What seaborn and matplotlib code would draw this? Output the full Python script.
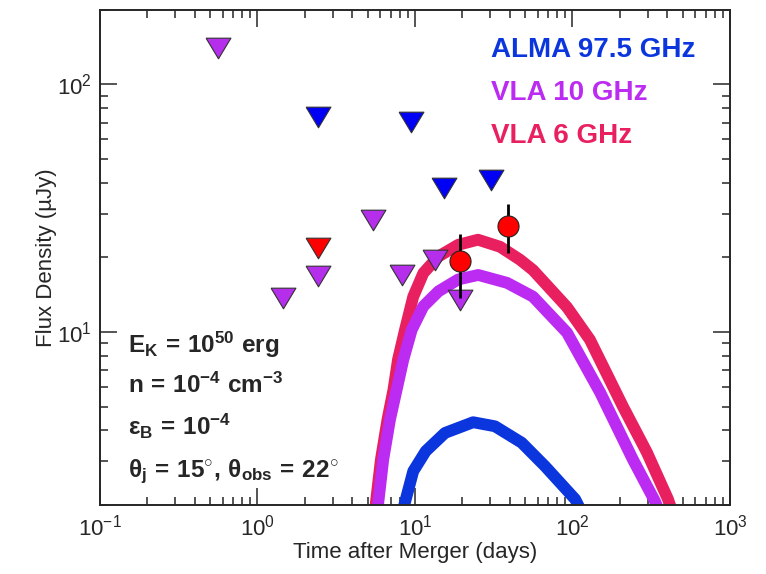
import numpy as np
import pandas as pd
import seaborn as sns
import matplotlib
matplotlib.use('Agg')
import matplotlib.pyplot as plt

# model light curves (days, uJy)
alma_t = [8.2, 8.64, 9.75, 11.7, 15.5, 23.4, 32.2, 47.6, 66.9, 104, 118]
alma_f = [1.8, 2.05, 2.74, 3.30, 3.91, 4.32, 4.16, 3.57, 2.87, 2.11, 1.8]
vla10_t = [5.75, 5.85, 6.29, 6.94, 7.65, 8.43, 9.53, 11.3, 14.1, 18.8, 25.2, 38.4, 56.1,
           92.3, 150, 242, 334, 365]
vla10_f = [1.8, 2.05, 3.06, 4.43, 5.85, 7.73, 10.2, 12.7, 14.6, 16.3, 17.0, 15.8, 13.9,
           9.94, 5.69, 3.05, 2.07, 1.8]
vla6_t = [5.55, 5.65, 6.08, 6.69, 7.30, 7.80, 8.64, 9.75, 11.3, 14.1, 18.8, 25.1, 34.7,
          46.4, 56.1, 92.3, 129, 209, 297, 404, 440]
vla6_f = [1.8, 2.05, 3.06, 4.43, 5.85, 7.73, 10.2, 13.9, 17.3, 20.2, 22.5, 23.6, 22.1,
          19.6, 17.8, 12.6, 9.31, 5.0, 3.26, 2.11, 1.8]

# upper limits
alma_lim_t = [2.42, 9.44, 15.2, 30.3]
alma_lim_f = [73.8, 70.7, 38.2, 41.1]
vla10_lim_t = [0.56, 1.45, 2.42, 5.4, 8.26, 13.4, 19.3]
vla10_lim_f = [141, 13.7, 16.9, 28.4, 17.0, 19.6, 13.5]
vla6_lim_t = [2.42]
vla6_lim_f = [21.9]

# detections
det_t = [19.3, 39.1]
det_f = [19.3, 26.9]
det_err = [5.6, 6.1]

c_alma = '#0B36DE'
c_vla10 = '#BB2BF2'
c_vla6 = '#E8205F'

sns.set_style('ticks')
plt.rcParams['font.family'] = ['Liberation Sans', 'DejaVu Sans']
plt.rcParams['mathtext.fontset'] = 'custom'
plt.rcParams['mathtext.rm'] = 'Liberation Sans:bold'
plt.rcParams['mathtext.it'] = 'Liberation Sans:bold'
plt.rcParams['mathtext.bf'] = 'Liberation Sans:bold'

fig = plt.figure(figsize=(7.66, 5.74), dpi=100)
ax = fig.add_axes([0.1305, 0.1202, 0.8225, 0.8624])

for t, f, c in [(vla6_t, vla6_f, c_vla6), (vla10_t, vla10_f, c_vla10), (alma_t, alma_f, c_alma)]:
    sns.lineplot(data=pd.DataFrame({'t': t, 'f': f}), x='t', y='f', color=c, lw=8.5,
                 sort=False, ax=ax, zorder=2, solid_capstyle='butt', solid_joinstyle='round')

tri = [(-1, 0.83), (1, 0.83), (0, -0.83), (-1, 0.83)]
for t, f, c in [(vla10_lim_t, vla10_lim_f, '#B52EEB'), (alma_lim_t, alma_lim_f, '#0000F5'),
                (vla6_lim_t, vla6_lim_f, '#FF0000')]:
    sns.scatterplot(data=pd.DataFrame({'t': t, 'f': f}), x='t', y='f', marker=tri, s=320,
                    color=c, edgecolor='#333333', linewidth=0.8, ax=ax, zorder=3)

ax.errorbar(det_t, det_f, yerr=det_err, fmt='none', ecolor='black', elinewidth=2, zorder=4)
sns.scatterplot(data=pd.DataFrame({'t': det_t, 'f': det_f}), x='t', y='f', marker='o', s=230,
                color='#FF0000', edgecolor='#222222', linewidth=0.8, ax=ax, zorder=5)

ax.set_xscale('log')
ax.set_yscale('log')
ax.set_xlim(0.1, 1000)
ax.set_ylim(2, 200)
ax.set_xlabel('Time after Merger (days)', fontsize=16, labelpad=1)
ax.set_ylabel('Flux Density (\u00b5Jy)', fontsize=16, labelpad=0)
ax.tick_params(which='both', direction='in', top=True, right=True, labelsize=16, width=1.1)
ax.tick_params(which='major', length=12)
ax.tick_params(which='minor', length=6)
ax.tick_params(axis='x', pad=7)
ax.tick_params(axis='y', pad=6)
for s in ax.spines.values():
    s.set_linewidth(1.4)

ax.text(0.621, 0.906, 'ALMA 97.5 GHz', color=c_alma, fontsize=20, fontweight='bold',
        transform=ax.transAxes, va='baseline')
ax.text(0.621, 0.818, 'VLA 10 GHz', color=c_vla10, fontsize=20, fontweight='bold',
        transform=ax.transAxes, va='baseline')
ax.text(0.621, 0.731, 'VLA 6 GHz', color=c_vla6, fontsize=20, fontweight='bold',
        transform=ax.transAxes, va='baseline')

params = [r'$\mathrm{E_K\,=\,10^{50}\ erg}$',
          r'$\mathrm{n\,=\,10^{-4}\ cm^{-3}}$',
          r'$\mathrm{\epsilon_B\,=\,10^{-4}}$',
          r'$\mathrm{\theta_j\,=\,15^{\circ},\,\theta_{obs}\,=\,22^{\circ}}$']
for i, p in enumerate(params):
    ax.text(0.044, [0.307, 0.227, 0.141, 0.057][i], p, fontsize=17.5, transform=ax.transAxes,
            va='baseline')

fig.savefig('out.png', dpi=100)
